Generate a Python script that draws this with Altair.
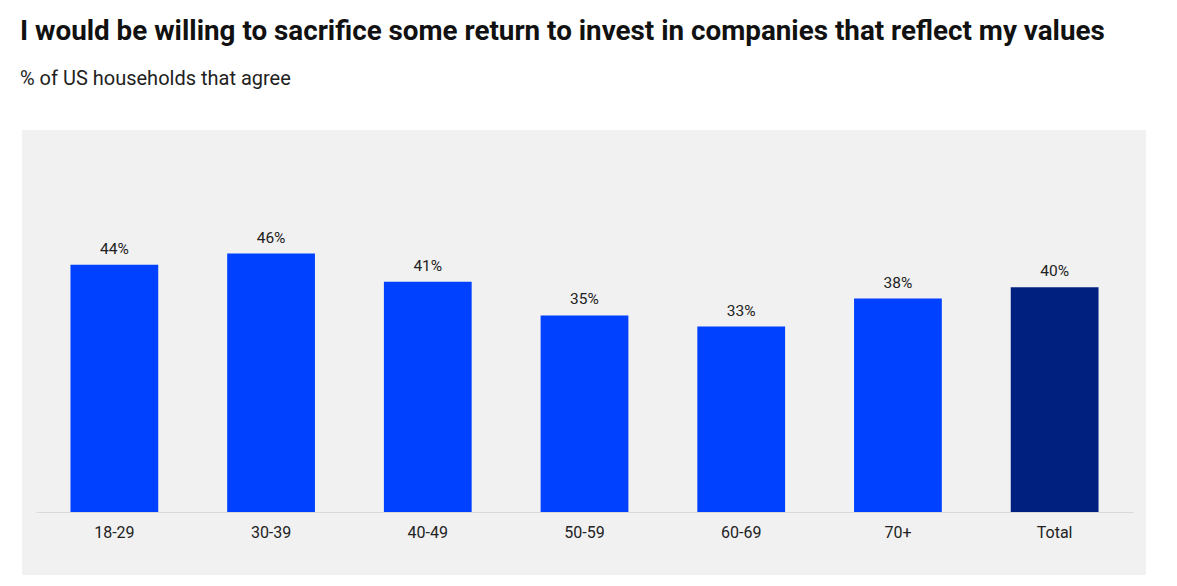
import altair as alt
import pandas as pd

# Share of US households agreeing, by age group
groups = ["18-29", "30-39", "40-49", "50-59", "60-69", "70+", "Total"]
shares = [44, 46, 41, 35, 33, 38, 40]
kinds = ["age", "age", "age", "age", "age", "age", "total"]

df = pd.DataFrame({"group": groups, "share": shares, "kind": kinds})
df["label"] = df["share"].astype(str) + "%"

W, H = 1097, 382
FONT = "Roboto"

# light grey panel behind the plot
panel = alt.Chart(pd.DataFrame({"p": [0]})).mark_rect(color="#f1f1f1").encode(
    x=alt.value(-14), x2=alt.value(1110), y=alt.value(0), y2=alt.value(H + 63)
)

x_enc = alt.X(
    "group:N",
    sort=groups,
    title=None,
    scale=alt.Scale(paddingInner=0.44, paddingOuter=0.22),
    axis=alt.Axis(
        labelAngle=0,
        labelFont=FONT,
        labelFontSize=16,
        labelColor="#222222",
        labelPadding=12,
        ticks=False,
        domainColor="#d9d9d9",
        domainWidth=1,
        grid=False,
        zindex=1,
    ),
)
y_enc = alt.Y("share:Q", scale=alt.Scale(domain=[0, 68]), axis=None)

bars = alt.Chart(df).mark_bar().encode(
    x=x_enc,
    y=y_enc,
    color=alt.Color(
        "kind:N",
        scale=alt.Scale(domain=["age", "total"], range=["#0040ff", "#00207f"]),
        legend=None,
    ),
)

labels = alt.Chart(df).mark_text(
    baseline="bottom", dy=-8, font=FONT, fontSize=15.5, color="#222222"
).encode(x=x_enc, y=y_enc, text="label:N")

chart = (
    alt.layer(panel, bars, labels)
    .properties(
        width=W,
        height=H,
        autosize=alt.AutoSizeParams(type="none"),
        padding={"left": 36, "top": 130, "right": 44, "bottom": 74},
        title=alt.TitleParams(
            text="I would be willing to sacrifice some return to invest in companies that reflect my values",
            subtitle="% of US households that agree",
            anchor="start",
            frame="group",
            dx=-16,
            offset=41,
            font=FONT,
            fontSize=27.8,
            fontWeight="bold",
            color="#111111",
            subtitleFont=FONT,
            subtitleFontSize=20,
            subtitleColor="#222222",
            subtitlePadding=23,
        ),
    )
    .configure_view(stroke=None)
    .configure(background="white")
)

chart.save("out.html", embed_options={"renderer": "svg", "actions": False})
